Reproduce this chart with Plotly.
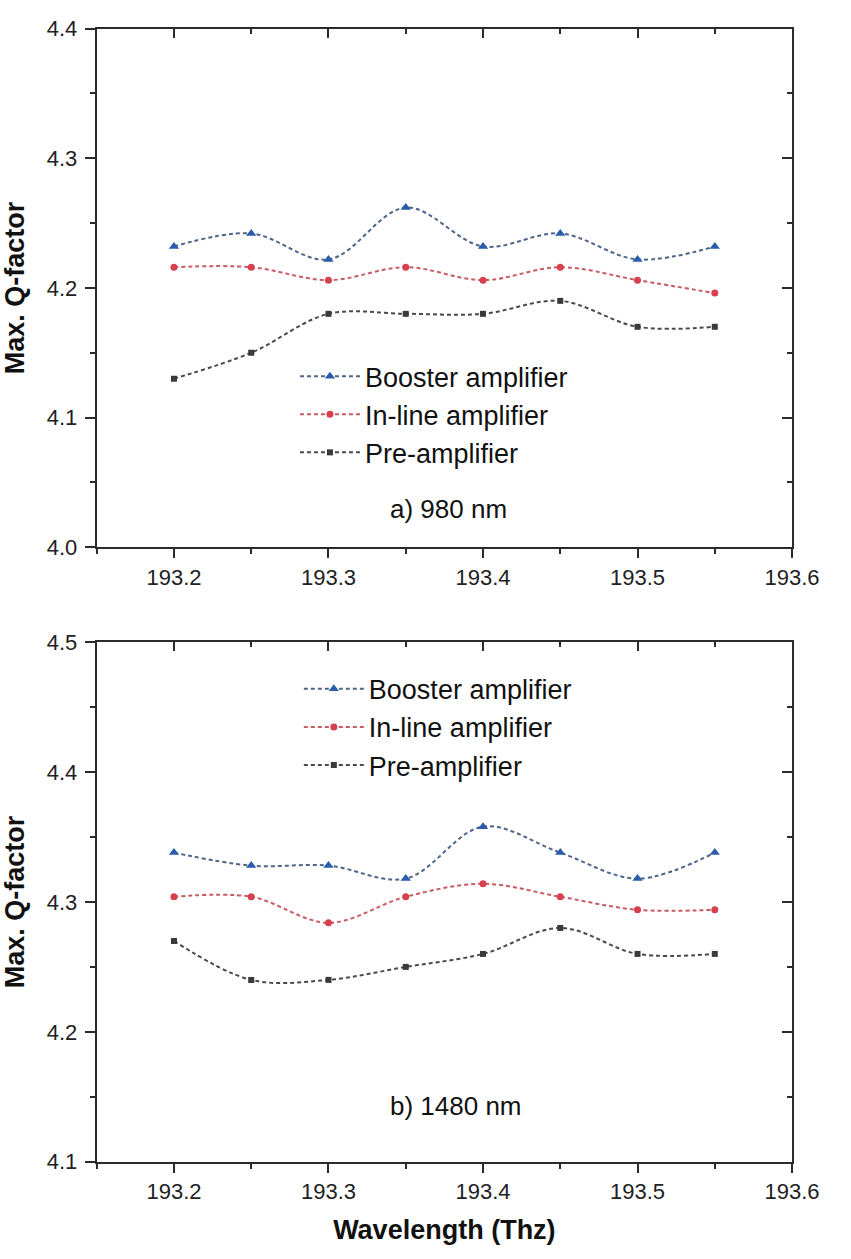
import plotly.graph_objects as go

freq = [193.2, 193.25, 193.3, 193.35, 193.4, 193.45, 193.5, 193.55]

# a) 980 nm
booster_980 = [4.232, 4.242, 4.222, 4.262, 4.232, 4.242, 4.222, 4.232]
inline_980 = [4.216, 4.216, 4.206, 4.216, 4.206, 4.216, 4.206, 4.196]
pre_980 = [4.13, 4.15, 4.18, 4.18, 4.18, 4.19, 4.17, 4.17]

# b) 1480 nm
booster_1480 = [4.338, 4.328, 4.328, 4.318, 4.358, 4.338, 4.318, 4.338]
inline_1480 = [4.304, 4.304, 4.284, 4.304, 4.314, 4.304, 4.294, 4.294]
pre_1480 = [4.27, 4.24, 4.24, 4.25, 4.26, 4.28, 4.26, 4.26]

series_names = ["Booster amplifier", "In-line amplifier", "Pre-amplifier"]
panel_labels = ["a) 980 nm", "b) 1480 nm"]
x_range = [193.15, 193.6]
y_range_top = [4.0, 4.4]
y_range_bot = [4.1, 4.5]

FONT = "Arial, Liberation Sans, sans-serif"
AX = "#2b2b2b"
styles = [
    dict(line="#4d6688", marker="#2a5cab", symbol="triangle-up", size=9),
    dict(line="#c95a64", marker="#d7404f", symbol="circle", size=7),
    dict(line="#4a4a4a", marker="#3a3a3a", symbol="square", size=6),
]

W, H = 851, 1259
xd = [100 / W, 819 / W]
yd_top = [1 - 546 / H, 1 - 17 / H]
yd_bot = [1 - 1173 / H, 1 - 643 / H]

fig = go.Figure()

def add_panel(data, xa, ya, legend):
    for name, vals, st in zip(series_names, data, styles):
        fig.add_trace(go.Scatter(
            x=freq, y=vals, name=name, mode="lines+markers",
            xaxis=xa, yaxis=ya, legend=legend,
            line=dict(color=st["line"], width=2, dash="4px,3px", shape="spline", smoothing=1.0),
            marker=dict(color=st["marker"], symbol=st["symbol"], size=st["size"]),
        ))

add_panel([booster_980, inline_980, pre_980], "x", "y", "legend")
add_panel([booster_1480, inline_1480, pre_1480], "x2", "y2", "legend2")

# invisible traces for mirrored inner-tick axes
for xa, ya in [("x3", "y3"), ("x4", "y4")]:
    fig.add_trace(go.Scatter(x=[], y=[], xaxis=xa, yaxis=ya, showlegend=False,
                             hoverinfo="skip", mode="markers"))

tickfont = dict(family=FONT, size=22, color="#222")
titlefont = dict(family=FONT, size=27, color="#111")

def xax(anchor, show_labels=True, side="bottom", overlaying=None, ticks="outside", title=None):
    d = dict(domain=xd, anchor=anchor, range=x_range, tick0=193.2, dtick=0.1,
             tickformat=".1f", ticks=ticks, ticklen=9, tickwidth=2, tickcolor=AX,
             showline=True, linewidth=2, linecolor=AX, showgrid=False, zeroline=False,
             showticklabels=show_labels, tickfont=tickfont, side=side,
             minor=dict(ticks=ticks, ticklen=5, tickwidth=2, tickcolor=AX, dtick=0.05, tick0=193.2, showgrid=False))
    if overlaying:
        d["overlaying"] = overlaying
    if title:
        d["title"] = dict(text=title, font=titlefont, standoff=17)
    return d

def yax(anchor, rng, domain, show_labels=True, side="left", overlaying=None, ticks="outside", title=None):
    d = dict(domain=domain, anchor=anchor, range=rng, dtick=0.1, tick0=4.0,
             tickformat=".1f", ticks=ticks, ticklen=10, tickwidth=2, tickcolor=AX,
             showline=True, linewidth=2, linecolor=AX, showgrid=False, zeroline=False,
             showticklabels=show_labels, tickfont=tickfont, side=side, ticklabelstandoff=3,
             minor=dict(ticks=ticks, ticklen=5, tickwidth=2, tickcolor=AX, dtick=0.05, tick0=4.0, showgrid=False))
    if overlaying:
        d["overlaying"] = overlaying
    if title:
        d["title"] = dict(text=title, font=titlefont, standoff=15)
    return d

legend_common = dict(font=dict(family=FONT, size=27, color="#111"), bgcolor="rgba(0,0,0,0)",
                     xanchor="left", yanchor="top", itemwidth=60, tracegroupgap=0)

fig.update_layout(
    width=W, height=H, margin=dict(l=0, r=0, t=0, b=0),
    paper_bgcolor="white", plot_bgcolor="white",
    font=dict(family=FONT),
    showlegend=True,
    xaxis=xax("y"),
    yaxis=yax("x", y_range_top, yd_top, title="<b>Max. Q-factor</b>"),
    xaxis2=xax("y2", title="<b>Wavelength (Thz)</b>"),
    yaxis2=yax("x2", y_range_bot, yd_bot, title="<b>Max. Q-factor</b>"),
    xaxis3=xax("y3", show_labels=False, side="top", overlaying="x", ticks="inside"),
    yaxis3=yax("x3", y_range_top, yd_top, show_labels=False, side="right", overlaying="y", ticks="inside"),
    xaxis4=xax("y4", show_labels=False, side="top", overlaying="x2", ticks="inside"),
    yaxis4=yax("x4", y_range_bot, yd_bot, show_labels=False, side="right", overlaying="y2", ticks="inside"),
    legend=dict(x=305 / W, y=1 - 347 / H, **legend_common),
    legend2=dict(x=309 / W, y=1 - 666 / H, **legend_common),
    annotations=[
        dict(text=panel_labels[0], x=464 / W, y=1 - 507 / H, xref="paper", yref="paper",
             showarrow=False, font=dict(family=FONT, size=26, color="#111")),
        dict(text=panel_labels[1], x=472 / W, y=1 - 1133 / H, xref="paper", yref="paper",
             showarrow=False, font=dict(family=FONT, size=26, color="#111")),
    ],
)

fig.write_html("out.html")
